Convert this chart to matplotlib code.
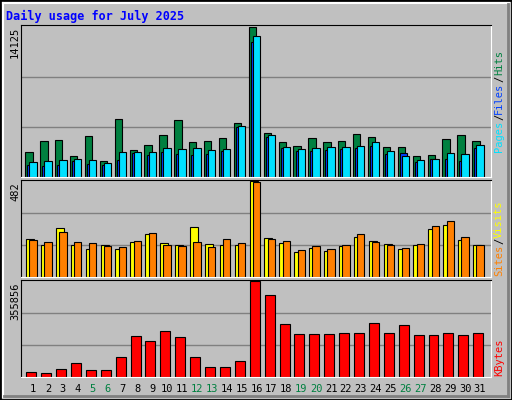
import matplotlib
matplotlib.use("Agg")
import matplotlib.pyplot as plt
import numpy as np

days = list(range(1, 32))
weekend_days = [5, 6, 12, 13, 19, 20, 26, 27]

hits = [2333, 3387, 3483, 1949, 3867, 1470, 5497, 2525, 3004, 3963, 5401, 3292, 3387, 3675, 5113, 14125,
        4154, 3292, 2908, 3675, 3292, 3387, 4058, 3771, 2812, 2812, 1949, 2045, 3579, 3963, 3387]
files = [1087, 991, 1087, 1470, 1182, 1087, 1566, 2237, 2045, 2333, 2141, 2045, 2141, 2429, 4730, 12687,
         3771, 2716, 2429, 2429, 2525, 2620, 2716, 2908, 2141, 2237, 1374, 1662, 1662, 1470, 2716]
pages = [1374, 1470, 1566, 1662, 1566, 1278, 2333, 2333, 2333, 2716, 2620, 2716, 2525, 2620, 4826, 13262,
         3963, 2812, 2620, 2716, 2812, 2812, 2908, 3292, 2429, 1949, 1566, 1662, 2237, 2141, 3004]
visits = [194, 162, 246, 162, 141, 162, 141, 178, 215, 173, 162, 251, 168, 162, 162, 482,
          199, 173, 126, 147, 131, 157, 204, 183, 168, 141, 162, 241, 262, 189, 162]
sites = [189, 178, 225, 178, 173, 157, 152, 183, 220, 162, 157, 178, 152, 194, 173, 477,
         194, 183, 136, 157, 141, 162, 215, 178, 162, 147, 168, 257, 283, 204, 162]
kbytes = [19485, 15588, 28578, 51960, 24681, 24681, 75342, 153282, 133797, 172767, 149385, 75342, 36372,
          36372, 59754, 355856, 305265, 196149, 161076, 161076, 161076, 164973, 164973, 200046, 164973,
          192252, 157179, 157179, 164973, 157179, 164973]

title = "Daily usage for July 2025"
BG = "#C0C0C0"
W, H = 512, 400
mono = "DejaVu Sans Mono"

fig = plt.figure(figsize=(W / 100, H / 100), dpi=100, facecolor=BG)
fig.text(6 / W, 1 - 16 / H, title, color="#0000FF", fontsize=8.5, fontweight="bold",
         family=mono, va="center")

x = np.array(days)
xlim = (0.19, 31.74)


def panel(top, bottom, vmax):
    ax = fig.add_axes([21 / W, 1 - bottom / H, 470 / W, (bottom - top) / H])
    ax.set_facecolor(BG)
    ax.set_xlim(*xlim)
    ax.set_ylim(0, vmax * 1.015)
    ax.set_xticks([])
    ax.set_yticks([])
    for g in (1 / 3, 2 / 3):
        ax.axhline(vmax * g, color="#808080", lw=1, zorder=0)
    for s in ax.spines.values():
        s.set_color("black")
    ax.spines["right"].set_color("white")
    ax.spines["bottom"].set_color("white")
    fig.text(15 / W, 1 - (top + 2) / H, f"{vmax}", rotation=90, ha="center", va="top",
             fontsize=7.5, family=mono)
    return ax


ax1 = panel(25, 177, 14125)
ax1.bar(x - 0.275, hits, width=0.49, color="#008040", edgecolor="black", lw=0.8)
ax1.bar(x - 0.14, files, width=0.48, color="#0040FF", edgecolor="black", lw=0.8)
ax1.bar(x + 0.0, pages, width=0.49, color="#00E0FF", edgecolor="black", lw=0.8)

ax2 = panel(180, 277, 482)
ax2.bar(x - 0.2, visits, width=0.54, color="#FFFF00", edgecolor="black", lw=0.8)
ax2.bar(x + 0.0, sites, width=0.49, color="#FF8000", edgecolor="black", lw=0.8)

ax3 = panel(280, 377, 355856)
ax3.bar(x - 0.12, kbytes, width=0.67, color="#FF0000", edgecolor="black", lw=0.8)

# day labels
for d in days:
    col = "#008040" if d in weekend_days else "black"
    ax3.text(d, -0.12, str(d), transform=ax3.get_xaxis_transform(), ha="center", va="center",
             fontsize=7.5, color=col, family=mono)


# right-hand legends, reading bottom to top
def legend(parts, bottom_px):
    char = 6.4
    pos = bottom_px
    for txt, col in parts:
        fig.text(499 / W, 1 - pos / H, txt, color=col, rotation=90, ha="center", va="bottom",
                 fontsize=7.5, family=mono)
        pos -= len(txt) * char


legend([("Pages", "#00E0FF"), ("/", "black"), ("Files", "#0040FF"), ("/", "black"),
        ("Hits", "#008040")], 152)
legend([("Sites", "#FF8000"), ("/", "black"), ("Visits", "#FFFF00")], 276)
legend([("KBytes", "#FF0000")], 376)

# outer bevel
fig.add_artist(plt.Rectangle((0, 0), 1, 1, transform=fig.transFigure, fill=False,
                             edgecolor="black", lw=2))
fig.add_artist(plt.Line2D([3 / W, 3 / W], [3 / H, 1 - 3 / H], color="white", lw=1.5))
fig.add_artist(plt.Line2D([3 / W, 1 - 3 / W], [1 - 3 / H, 1 - 3 / H], color="white", lw=1.5))
fig.add_artist(plt.Line2D([1 - 4 / W, 1 - 4 / W], [4 / H, 1 - 4 / H], color="#808080", lw=2))
fig.add_artist(plt.Line2D([4 / W, 1 - 4 / W], [4 / H, 4 / H], color="#808080", lw=2))

fig.savefig("out.png", dpi=100, facecolor=BG)
